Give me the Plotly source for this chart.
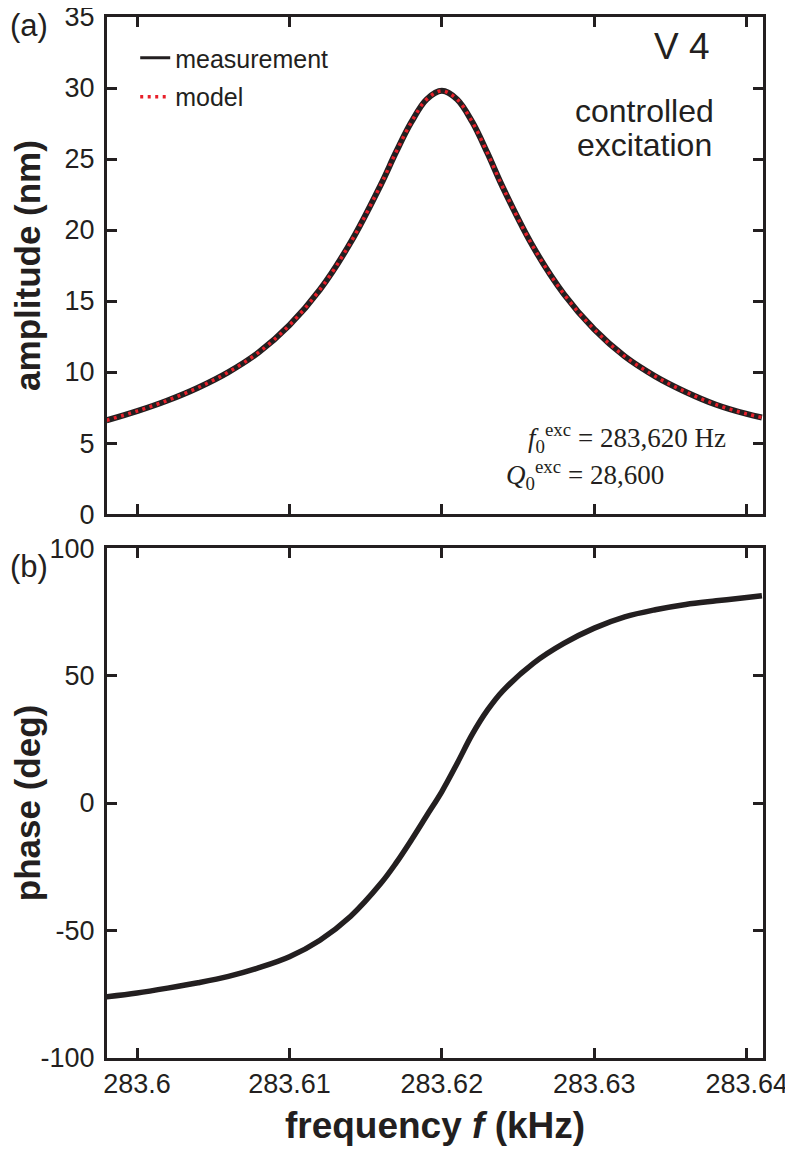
import plotly.graph_objects as go
from plotly.subplots import make_subplots

# amplitude curve (kHz, nm)
freq_amp = [283.598, 283.600, 283.602, 283.604, 283.606, 283.608, 283.610, 283.612,
            283.614, 283.616, 283.617, 283.618, 283.619, 283.620, 283.621, 283.622,
            283.623, 283.624, 283.626, 283.628, 283.630, 283.632, 283.634, 283.636,
            283.638, 283.640, 283.641]
amp_meas = [6.6, 7.25, 8.0, 8.9, 10.0, 11.4, 13.3, 15.8,
            19.1, 23.2, 25.5, 27.6, 29.2, 29.8, 29.2, 27.6,
            25.4, 23.0, 18.8, 15.5, 13.0, 11.1, 9.7, 8.6,
            7.7, 7.05, 6.8]
amp_model = amp_meas

# phase curve (kHz, deg)
freq_phase = [283.598, 283.600, 283.602, 283.604, 283.606, 283.608, 283.610, 283.612,
              283.614, 283.616, 283.617, 283.618, 283.619, 283.620, 283.621, 283.622,
              283.623, 283.624, 283.626, 283.628, 283.630, 283.632, 283.634, 283.636,
              283.638, 283.640, 283.641]
phase = [-76.0, -74.5, -72.6, -70.5, -68.0, -64.6, -60.3, -53.8,
         -44.5, -31.5, -23.5, -14.5, -5.0, 4.5, 15.5, 27.0,
         36.5, 44.0, 54.8, 62.6, 68.6, 73.0, 75.8, 77.9,
         79.3, 80.6, 81.3]

ink = "#231f20"
red = "#e8202a"
sans = dict(family="Liberation Sans, Arial", color=ink)
serif = dict(family="Liberation Serif, DejaVu Serif", color=ink, size=27)

# page has an 8px body margin, so the figure is sized to fit the window
fig = make_subplots(rows=2, cols=1, shared_xaxes=True, vertical_spacing=0.03266,
                    row_heights=[0.4936, 0.5064])

fig.add_trace(go.Scatter(x=freq_amp, y=amp_meas, mode="lines", line_shape="spline",
                         line=dict(color=ink, width=6), showlegend=False), row=1, col=1)
fig.add_trace(go.Scatter(x=freq_amp, y=amp_model, mode="lines", line_shape="spline",
                         line=dict(color=red, width=3.5, dash="3px,4.5px"), showlegend=False),
              row=1, col=1)
fig.add_trace(go.Scatter(x=freq_phase, y=phase, mode="lines", line_shape="spline",
                         line=dict(color=ink, width=5.5), showlegend=False), row=2, col=1)

# legend entries
fig.add_trace(go.Scatter(x=[None], y=[None], mode="lines", name="measurement", legend="legend",
                         line=dict(color=ink, width=3)), row=1, col=1)
fig.add_trace(go.Scatter(x=[None], y=[None], mode="lines", name="model", legend="legend2",
                         line=dict(color=red, width=3.5, dash="3px,4.5px")), row=1, col=1)

axis_style = dict(showline=True, linecolor=ink, linewidth=3, mirror="ticks",
                  ticks="inside", ticklen=10, tickwidth=3, tickcolor=ink,
                  showgrid=False, zeroline=False, automargin=False,
                  ticklabeloverflow="allow", tickfont=dict(size=27, **sans))

fig.update_xaxes(range=[283.59803, 283.64107], tickvals=[283.6, 283.61, 283.62, 283.63, 283.64],
                 ticktext=["283.6", "283.61", "283.62", "283.63", "283.64"], **axis_style)
fig.update_xaxes(showticklabels=False, row=1, col=1)
fig.update_xaxes(title=dict(text="<b>frequency <i>f</i> (kHz)</b>", standoff=14,
                            font=dict(size=37, **sans)),
                 row=2, col=1)

fig.update_yaxes(range=[0, 35], tickvals=[0, 5, 10, 15, 20, 25, 30, 35], ticklabelstandoff=4,
                 title=dict(text="<b>amplitude (nm)</b>", standoff=14,
                            font=dict(size=35, **sans)),
                 row=1, col=1, **axis_style)
fig.update_yaxes(range=[-100, 100], tickvals=[-100, -50, 0, 50, 100], ticklabelstandoff=4,
                 ticktext=["-100", "-50", "0", "50", "100"],
                 title=dict(text="<b>phase (deg)</b>", standoff=14,
                            font=dict(size=35, **sans)),
                 row=2, col=1, **axis_style)

fig.add_annotation(text="(a)", xref="paper", yref="paper", x=-0.1509, y=0.9923, xanchor="left",
                   yanchor="middle", showarrow=False, font=dict(size=31, **sans))
fig.add_annotation(text="(b)", xref="paper", yref="paper", x=-0.1509, y=0.4726, xanchor="left",
                   yanchor="middle", showarrow=False, font=dict(size=31, **sans))
fig.add_annotation(text="V 4", xref="x domain", yref="y domain", x=0.923, y=0.9416,
                   xanchor="right", yanchor="middle", showarrow=False, font=dict(size=37, **sans))
fig.add_annotation(text="controlled", xref="x domain", yref="y domain",
                   x=0.820, y=0.8109, xanchor="center", yanchor="middle", showarrow=False,
                   font=dict(size=32, **sans))
fig.add_annotation(text="excitation", xref="x domain", yref="y domain",
                   x=0.820, y=0.7425, xanchor="center", yanchor="middle", showarrow=False,
                   font=dict(size=32, **sans))
fig.add_annotation(text="<i>f</i><sub>0</sub><sup>exc</sup> = 283,620 Hz", xref="x domain",
                   yref="y domain", x=0.947, y=0.1529, xanchor="right", yanchor="middle",
                   showarrow=False, font=serif)
fig.add_annotation(text="<i>Q</i><sub>0</sub><sup>exc</sup> = 28,600", xref="x domain",
                   yref="y domain", x=0.852, y=0.0785, xanchor="right", yanchor="middle",
                   showarrow=False, font=serif)

fig.update_layout(
    width=785, height=1145,
    margin=dict(l=99, r=30, t=9, b=95),
    paper_bgcolor="white", plot_bgcolor="white",
    legend=dict(x=0.043, y=0.9606, xanchor="left", yanchor="middle", bgcolor="rgba(0,0,0,0)",
                font=dict(size=25, **sans)),
    legend2=dict(x=0.043, y=0.9232, xanchor="left", yanchor="middle", bgcolor="rgba(0,0,0,0)",
                 font=dict(size=25, **sans)),
)

fig.write_html("out.html")
